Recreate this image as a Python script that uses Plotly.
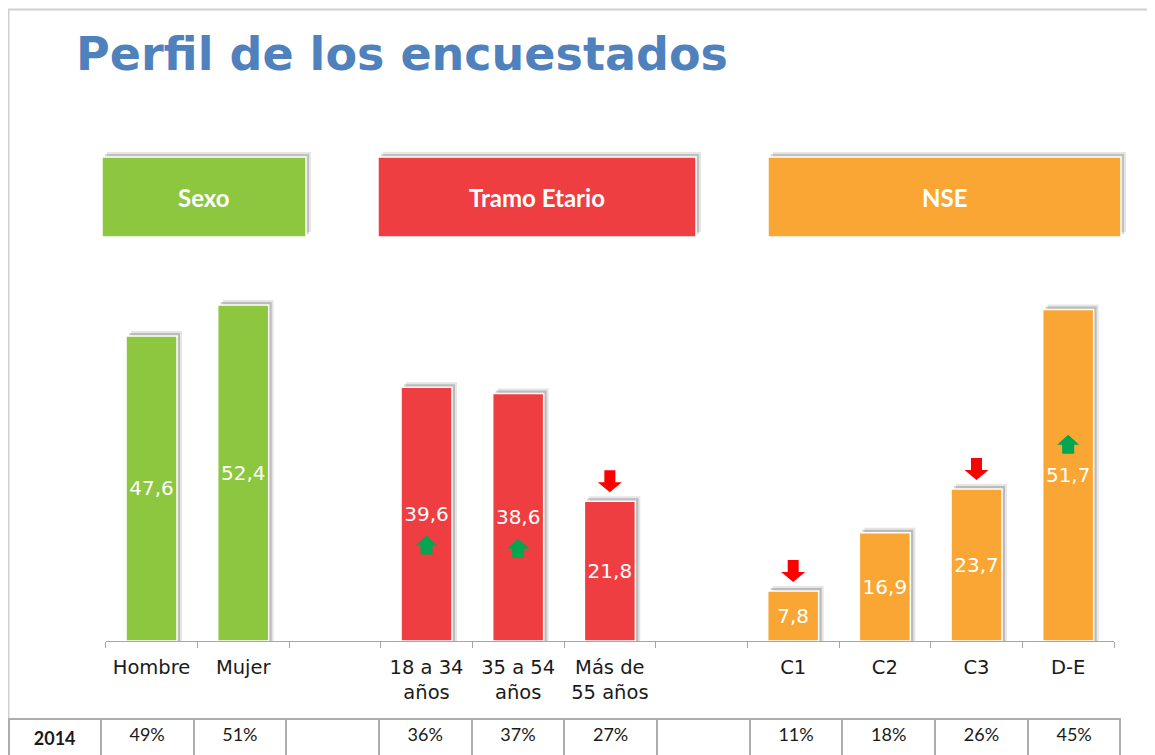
import plotly.graph_objects as go

# ---------------- data ----------------
categories = ["Hombre", "Mujer", "", "18 a 34<br>años", "35 a 54<br>años",
              "Más de<br>55 años", " ", "C1", "C2", "C3", "D-E"]
groups = ["Sexo", "Sexo", None, "Tramo Etario", "Tramo Etario", "Tramo Etario",
          None, "NSE", "NSE", "NSE", "NSE"]
values_2015 = [47.6, 52.4, None, 39.6, 38.6, 21.8, None, 7.8, 16.9, 23.7, 51.7]
trend = ["", "", "", "up", "up", "down", "", "down", "", "down", "up"]
table_label = "2014"
values_2014 = ["49%", "51%", "", "36%", "37%", "27%", "", "11%", "18%", "26%", "45%"]
group_names = ["Sexo", "Tramo Etario", "NSE"]

# ---------------- style ----------------
OFF = 8                      # page body margin of the browser
W, H = 1155 - OFF, 755 - OFF
GROUP_COLORS = {"Sexo": "rgb(141,198,63)", "Tramo Etario": "rgb(239,62,66)",
                "NSE": "rgb(249,166,52)"}
TITLE_BLUE = "rgb(79,129,189)"
AX_X0, AX_X1 = 105.7, 1114.0        # px (page coordinates)
BASE_Y, TOP_Y = 641.0, 290.0        # px (page coordinates)
PX_PER_UNIT_Y = 6.41
PX_PER_CAT = (AX_X1 - AX_X0) / len(categories)
YMAX = (BASE_Y - TOP_Y) / PX_PER_UNIT_Y
BAR_W = 0.556


def px_x(px):
    return min(1.0, max(0.0, (px - OFF) / W))


def px_y(py):
    return min(1.0, max(0.0, 1 - (py - OFF) / H))


def fmt(v):
    return "" if v is None else f"{v:.1f}".replace(".", ",")


xs = list(range(len(categories)))
bar_colors = [GROUP_COLORS[g] if g else "rgba(0,0,0,0)" for g in groups]

fig = go.Figure()

# soft shadows behind bars
for dx_px, dy_px, alpha in [(5, 5, 0.10), (3, 3, 0.18)]:
    fig.add_trace(go.Bar(
        x=xs, y=[None if v is None else v + dy_px / PX_PER_UNIT_Y for v in values_2015],
        width=BAR_W, offset=-BAR_W / 2 + dx_px / PX_PER_CAT,
        marker=dict(color=f"rgba(0,0,0,{alpha})", line=dict(width=0)),
        hoverinfo="skip", showlegend=False))

# main bars
fig.add_trace(go.Bar(
    x=xs, y=values_2015, width=BAR_W,
    marker=dict(color=bar_colors, line=dict(color="white", width=1.5)),
    text=[fmt(v) for v in values_2015], textposition="inside",
    insidetextanchor="middle", constraintext="none",
    textfont=dict(family="DejaVu Sans", size=20, color="white"),
    showlegend=False, hoverinfo="skip"))

# trend arrows (block arrows drawn as polygons)
ARROW_STYLE = {"up": dict(color="rgb(0,166,80)", w=22, h=19, shaft=12, head=10),
               "down": dict(color="rgb(255,0,0)", w=24, h=22, shaft=11, head=10)}
UP_OFFSET_PX = {3: -31, 4: -31, 10: 31}   # relative to bar label centre (+ = upwards)
DOWN_GAP_PX = 9

for kind in ("up", "down"):
    st = ARROW_STYLE[kind]
    ax, ay = [], []
    for i, (t, v) in enumerate(zip(trend, values_2015)):
        if t != kind or v is None:
            continue
        if kind == "up":
            cy_px = v / 2 * PX_PER_UNIT_Y + UP_OFFSET_PX.get(i, 0)
        else:
            cy_px = v * PX_PER_UNIT_Y + DOWN_GAP_PX + st["h"] / 2
        s = 1 if kind == "up" else -1
        w2, h2, sw2 = st["w"] / 2, st["h"] / 2, st["shaft"] / 2
        hb = h2 - st["head"]
        pts = [(0, h2), (w2, hb), (sw2, hb), (sw2, -h2), (-sw2, -h2),
               (-sw2, hb), (-w2, hb), (0, h2)]
        for px, py in pts:
            ax.append(i + px / PX_PER_CAT)
            ay.append((cy_px + s * py) / PX_PER_UNIT_Y)
        ax.append(None)
        ay.append(None)
    fig.add_trace(go.Scatter(x=ax, y=ay, mode="lines", fill="toself",
                             fillcolor=st["color"], line=dict(width=0, color=st["color"]),
                             hoverinfo="skip", showlegend=False))

# table row with 2014 values
fig.add_trace(go.Table(
    domain=dict(x=[px_x(8.5), px_x(1121)], y=[0, px_y(719)]),
    columnwidth=[92.5] + [92.9] * len(categories),
    header=dict(values=[f"<b>{table_label}</b>"] + values_2014,
                height=34, align="center",
                fill=dict(color="white"),
                line=dict(color="#ADADAD", width=2),
                font=dict(family="Lato", size=18, color="#1a1a1a")),
    cells=dict(values=[[] for _ in range(len(categories) + 1)],
               line=dict(color="#ADADAD", width=2), height=0)))

shapes = []
annotations = []

# outer slide frame
shapes.append(dict(type="rect", xref="paper", yref="paper",
                   x0=0.5 / W, x1=1.05, y0=-0.05, y1=px_y(9.5),
                   line=dict(color="#D0D0D0", width=2), fillcolor="rgba(0,0,0,0)",
                   layer="below"))

# group header boxes
BOX_PX = {"Sexo": (102, 306), "Tramo Etario": (378, 696), "NSE": (768, 1121)}
BOX_TOP, BOX_BOT = 157, 237
for g in group_names:
    x0, x1 = BOX_PX[g]
    for dx, dy, a in [(5, 5, 0.10), (3, 3, 0.16)]:
        shapes.append(dict(type="rect", xref="paper", yref="paper",
                           x0=px_x(x0 + dx), x1=px_x(x1 + dx),
                           y0=px_y(BOX_BOT - dy), y1=px_y(BOX_TOP - dy),
                           line=dict(width=0), fillcolor=f"rgba(0,0,0,{a})"))
    shapes.append(dict(type="rect", xref="paper", yref="paper",
                       x0=px_x(x0), x1=px_x(x1), y0=px_y(BOX_BOT), y1=px_y(BOX_TOP),
                       line=dict(color="white", width=1.5),
                       fillcolor=GROUP_COLORS[g]))
    annotations.append(dict(xref="paper", yref="paper", x=px_x((x0 + x1) / 2),
                            y=px_y((BOX_TOP + BOX_BOT) / 2), text=f"<b>{g}</b>",
                            showarrow=False, xanchor="center", yanchor="middle",
                            font=dict(family="Lato", size=24, color="white")))

# title
annotations.append(dict(xref="paper", yref="paper", x=px_x(74), y=px_y(54),
                        text="<b>Perfil de los encuestados</b>", showarrow=False,
                        xanchor="left", yanchor="middle",
                        font=dict(family="DejaVu Sans", size=46, color=TITLE_BLUE)))

fig.update_layout(
    width=W, height=H, autosize=False,
    margin=dict(l=0, r=0, t=0, b=0),
    paper_bgcolor="white", plot_bgcolor="white",
    barmode="overlay", showlegend=False,
    shapes=shapes, annotations=annotations,
    xaxis=dict(domain=[px_x(AX_X0), px_x(AX_X1)], range=[-0.5, len(categories) - 0.5],
               tickmode="array", tickvals=xs, ticktext=categories, ticks="",
               showline=True, linecolor="#A6A6A6", linewidth=1.3,
               showgrid=False, zeroline=False, fixedrange=True,
               tickfont=dict(family="DejaVu Sans", size=19.5, color="#1a1a1a"),
               ticklabelstandoff=8,
               minor=dict(tickmode="linear", tick0=-0.5, dtick=1, ticks="outside",
                          ticklen=6, tickcolor="#A6A6A6", tickwidth=1.3,
                          showgrid=False)),
    yaxis=dict(domain=[px_y(BASE_Y), px_y(TOP_Y)], range=[0, YMAX], visible=False,
               fixedrange=True),
)

fig.write_html("out.html")
